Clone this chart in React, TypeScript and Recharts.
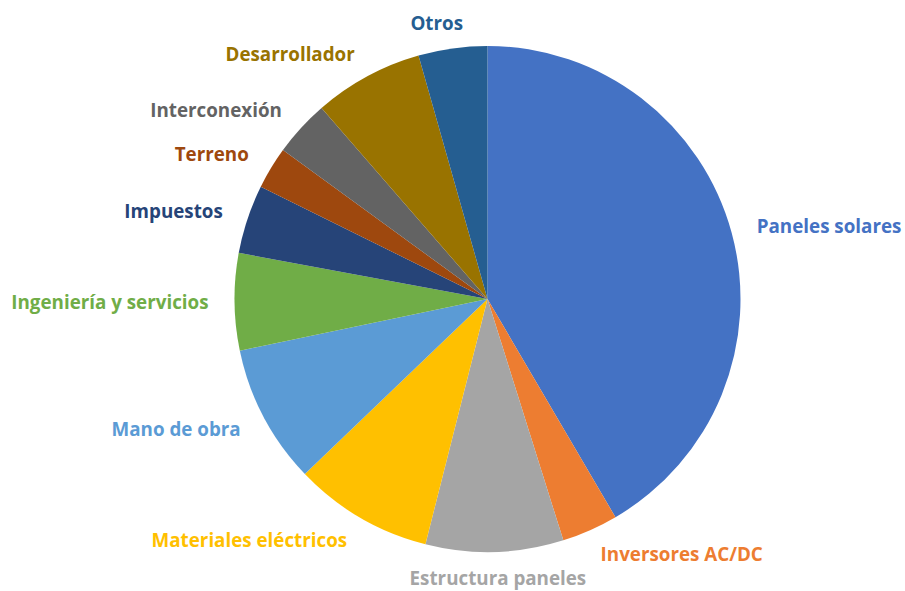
import * as React from "react";
import { PieChart, Pie, Cell } from "recharts";

const categories = [
  "Paneles solares",
  "Inversores AC/DC",
  "Estructura paneles",
  "Materiales eléctricos",
  "Mano de obra",
  "Ingeniería y servicios",
  "Impuestos",
  "Terreno",
  "Interconexión",
  "Desarrollador",
  "Otros",
];

// porcentaje del costo total
const shares = [41.6, 3.6, 8.8, 8.9, 8.9, 6.2, 4.4, 2.7, 3.6, 7.0, 4.4];

const colors = [
  "#4472C4",
  "#ED7D31",
  "#A5A5A5",
  "#FFC000",
  "#5B9BD5",
  "#70AD47",
  "#264478",
  "#9E480E",
  "#636363",
  "#997300",
  "#255E91",
];

const data = categories.map((name, i) => ({ name, value: shares[i] }));

const RADIAN = Math.PI / 180;

function renderLabel(props: any) {
  const { cx, cy, midAngle, outerRadius, name, index } = props;
  const r = outerRadius + 26;
  const c = Math.cos(-midAngle * RADIAN);
  const s = Math.sin(-midAngle * RADIAN);
  const middle = Math.abs(c) < 0.2;
  const x = cx + r * c + (middle ? c * 90 : 0);
  const y = cy + r * s;
  const anchor = middle ? "middle" : c > 0 ? "start" : "end";
  return (
    <text
      x={x}
      y={y}
      textAnchor={anchor}
      dominantBaseline="central"
      fill={colors[index]}
      fontSize={18.8}
      fontWeight={700}
      fontFamily="'Open Sans', sans-serif"
    >
      {name}
    </text>
  );
}

export default function App() {
  return (
    <div style={{ position: "absolute", left: 0, top: 0, width: 905, height: 591, background: "#fff" }}>
      <PieChart width={905} height={591} margin={{ top: 0, right: 0, bottom: 0, left: 0 }}>
        <Pie
          data={data}
          dataKey="value"
          nameKey="name"
          cx={487.5}
          cy={299}
          outerRadius={253}
          startAngle={90}
          endAngle={-270}
          stroke="none"
          label={renderLabel}
          labelLine={false}
          isAnimationActive={false}
        >
          {data.map((d, i) => (
            <Cell key={d.name} fill={colors[i]} />
          ))}
        </Pie>
      </PieChart>
    </div>
  );
}
